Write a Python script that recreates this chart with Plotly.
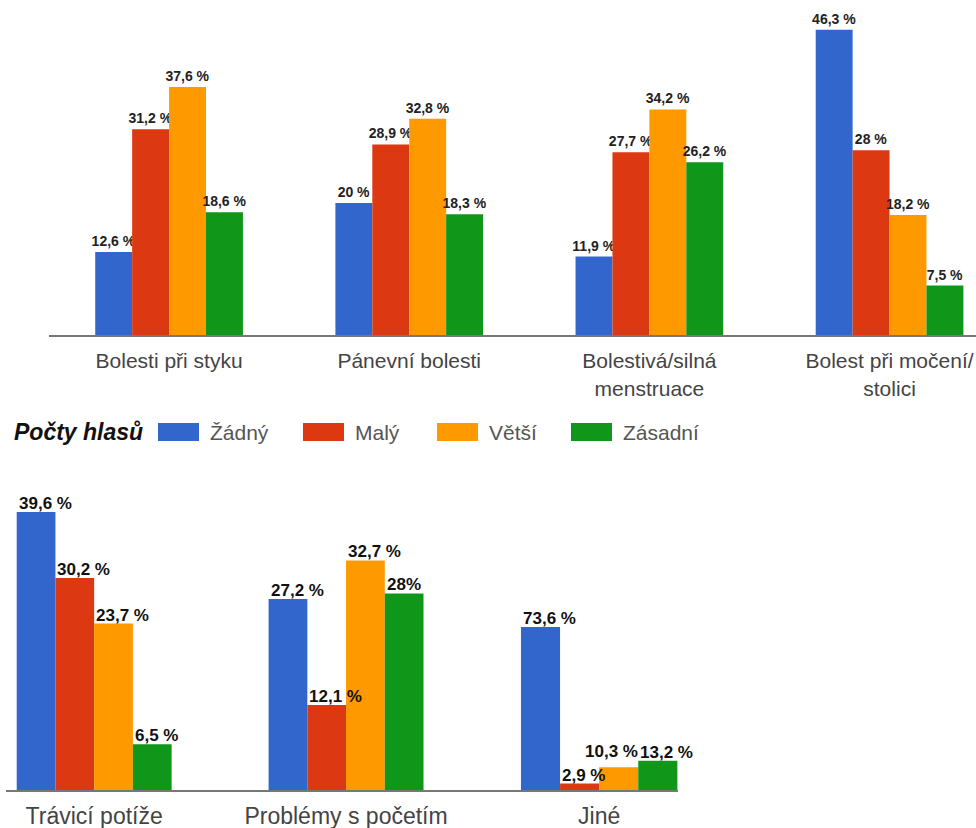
import plotly.graph_objects as go

# ---------------- data ----------------
series = ["Žádný", "Malý", "Větší", "Zásadní"]
colors = ["#3366cc", "#dc3912", "#ff9900", "#109618"]

top_categories = ["Bolesti při styku", "Pánevní bolesti",
                  "Bolestivá/silná<br>menstruace", "Bolest při močení/<br>stolici"]
zadny_top = [12.6, 20, 11.9, 46.3]
maly_top = [31.2, 28.9, 27.7, 28]
vetsi_top = [37.6, 32.8, 34.2, 18.2]
zasadni_top = [18.6, 18.3, 26.2, 7.5]

bottom_categories = ["Trávicí potíže", "Problémy s početím"]
zadny_bottom = [39.6, 27.2]
maly_bottom = [30.2, 12.1]
vetsi_bottom = [23.7, 32.7]
zasadni_bottom = [6.5, 28]

other_category = ["Jiné"]
zadny_other = [73.6]
maly_other = [2.9]
vetsi_other = [10.3]
zasadni_other = [13.2]

legend_title = "Počty hlasů"

top_values = [zadny_top, maly_top, vetsi_top, zasadni_top]
bottom_values = [zadny_bottom, maly_bottom, vetsi_bottom, zasadni_bottom]
other_values = [zadny_other, maly_other, vetsi_other, zasadni_other]


def fmt(v, sep=" "):
    return f"{v:g}".replace(".", ",") + sep + "%"


W, H = 976, 828
FONT = "Arial, 'Liberation Sans', sans-serif"
BARGAP = 0.385
BAR_W = (1 - BARGAP) / len(series)


def px_x(p):
    return p / W


def px_y(p):
    return 1 - p / H


fig = go.Figure()
annotations = []

for i, name in enumerate(series):
    fig.add_trace(go.Bar(
        x=top_categories, y=top_values[i], name=name,
        marker=dict(color=colors[i], line=dict(width=0)),
        text=[fmt(v) for v in top_values[i]], textposition="outside",
        textfont=dict(family=FONT, size=14, color="#222222", weight="bold"),
        constraintext="none", cliponaxis=False, showlegend=False,
        xaxis="x", yaxis="y",
    ))
    fig.add_trace(go.Bar(
        x=bottom_categories, y=bottom_values[i], name=name,
        marker=dict(color=colors[i], line=dict(width=0)),
        showlegend=False, xaxis="x2", yaxis="y2",
    ))
    fig.add_trace(go.Bar(
        x=other_category, y=other_values[i], name=name,
        marker=dict(color=colors[i], line=dict(width=0)),
        showlegend=False, xaxis="x3", yaxis="y3",
    ))

# bottom value labels: left-aligned with the bar's left edge, as in the original
label_font = dict(family=FONT, size=17, color="#111111")
nudges = {("Jiné", "Větší"): (-16, 7)}
for cats, vals_list, xr, yr in [(bottom_categories, bottom_values, "x2", "y2"),
                                (other_category, other_values, "x3", "y3")]:
    for i, name in enumerate(series):
        for j, cat in enumerate(cats):
            v = vals_list[i][j]
            txt = fmt(v, "" if (cat == "Problémy s početím" and name == "Zásadní") else " ")
            dx, dy = nudges.get((cat, name), (0, 0))
            annotations.append(dict(
                x=j - (1 - BARGAP) / 2 + i * BAR_W, y=v, xref=xr, yref=yr,
                text=f"<b>{txt}</b>", showarrow=False,
                xanchor="left", yanchor="bottom", xshift=dx, yshift=dy - 3,
                font=label_font,
            ))

axis_common = dict(showline=True, linecolor="#777777", linewidth=2, ticks="",
                   showgrid=False, zeroline=False, automargin=False, fixedrange=True)

top_base = 335
bot_base = 790
bot_top = 460

fig.update_layout(
    width=W, height=H, autosize=False,
    margin=dict(l=0, r=0, t=0, b=0),
    paper_bgcolor="white", plot_bgcolor="white",
    barmode="group", bargap=BARGAP, bargroupgap=0,
    font=dict(family=FONT),
    showlegend=False,
    xaxis=dict(domain=[px_x(49), 1], range=[-0.5, 3.36],
               tickfont=dict(family=FONT, size=21, color="#444444"),
               ticklabelstandoff=6, anchor="y", **axis_common),
    yaxis=dict(domain=[px_y(top_base), 1], range=[0, 50.8], visible=False,
               fixedrange=True, anchor="x"),
    xaxis2=dict(domain=[px_x(6), px_x(472)], range=[-0.35, 1.5],
                tickfont=dict(family=FONT, size=23, color="#444444"),
                ticklabelstandoff=4, anchor="y2", **axis_common),
    yaxis2=dict(domain=[px_y(bot_base), px_y(bot_top)], range=[0, 47],
                visible=False, fixedrange=True, anchor="x2"),
    xaxis3=dict(domain=[px_x(472), px_x(678)], range=[-0.5, 0.31],
                tickfont=dict(family=FONT, size=23, color="#444444"),
                ticklabelstandoff=4, anchor="y3", **axis_common),
    yaxis3=dict(domain=[px_y(bot_base), px_y(bot_top)], range=[0, 149],
                visible=False, fixedrange=True, anchor="x3"),
)

# ---------------- legend (drawn in paper coordinates) ----------------
legend_y = 432
swatch_x = [158, 303, 437, 571]
shapes = []
annotations.append(dict(
    x=px_x(12), y=px_y(legend_y), xref="paper", yref="paper",
    text=f"<b><i>{legend_title}</i></b>", showarrow=False,
    xanchor="left", yanchor="middle",
    font=dict(family=FONT, size=23, color="#111111"),
))
for i, name in enumerate(series):
    x0 = swatch_x[i]
    shapes.append(dict(type="rect", xref="paper", yref="paper",
                       x0=px_x(x0), x1=px_x(x0 + 41),
                       y0=px_y(legend_y - 9), y1=px_y(legend_y + 9),
                       fillcolor=colors[i], line=dict(width=0)))
    annotations.append(dict(
        x=px_x(x0 + 50), y=px_y(legend_y), xref="paper", yref="paper",
        text=name, showarrow=False, xanchor="left", yanchor="middle",
        font=dict(family=FONT, size=21, color="#555555"),
    ))
fig.update_layout(shapes=shapes, annotations=annotations)

fig.write_html("out.html")
